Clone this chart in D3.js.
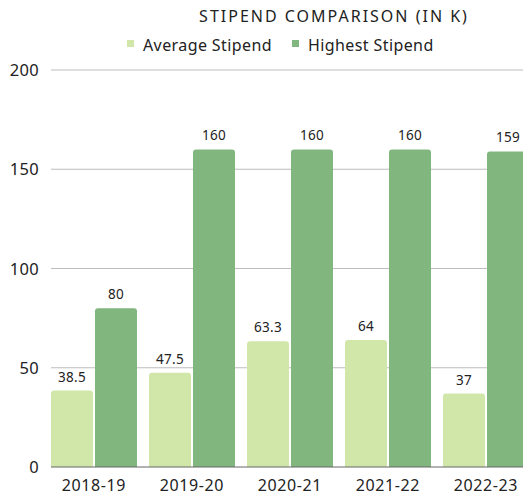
<!DOCTYPE html>
<html>
<head>
<meta charset="utf-8">
<script src="https://cdn.jsdelivr.net/npm/d3@7"></script>
<style>
  body { margin: 0; background: #fff; }
  svg text { font-family: "Noto Sans", "Open Sans", sans-serif; }
</style>
</head>
<body>
<div id="chart"></div>
<script>
// data
var years = ["2018-19", "2019-20", "2020-21", "2021-22", "2022-23"];
var seriesNames = ["Average Stipend", "Highest Stipend"];
var average = [38.5, 47.5, 63.3, 64, 37];
var highest = [80, 160, 160, 160, 159];
var yTicks = [0, 50, 100, 150, 200];

var colors = ["#d0e7a9", "#81b77e"];

var w = 523, h = 498;

var svg = d3.select("#chart").append("svg")
  .attr("width", w).attr("height", h);

var x0 = d3.scaleBand()
  .domain(years)
  .range([51, 529])
  .paddingInner(12 / 98)
  .paddingOuter(0);

var x1 = d3.scaleBand()
  .domain(seriesNames)
  .range([0, x0.bandwidth()])
  .paddingInner(0.045);

var y = d3.scaleLinear().domain([0, 200]).range([467, 70]);

// gridlines
svg.selectAll("line.grid")
  .data(yTicks.slice(1))
  .enter().append("line")
  .attr("class", "grid")
  .attr("x1", 51).attr("x2", w)
  .attr("y1", function(d){ return y(d); })
  .attr("y2", function(d){ return y(d); })
  .attr("stroke", "#bdbdbd").attr("stroke-width", 1.2);

// y tick labels
svg.selectAll("text.ytick")
  .data(yTicks)
  .enter().append("text")
  .attr("class", "ytick")
  .attr("x", 39)
  .attr("y", function(d){ return y(d) + 6; })
  .attr("text-anchor", "end")
  .attr("font-size", "16.5px")
  .attr("letter-spacing", "0.3px")
  .attr("fill", "#222")
  .text(function(d){ return d; });

var rows = years.map(function(yr, i){
  return { year: yr, vals: [average[i], highest[i]] };
});

// rounded-top bar path
function barPath(x, yTop, bw, bh, r) {
  r = Math.min(r, bh);
  return "M" + x + "," + (yTop + bh) +
    "V" + (yTop + r) +
    "Q" + x + "," + yTop + " " + (x + r) + "," + yTop +
    "H" + (x + bw - r) +
    "Q" + (x + bw) + "," + yTop + " " + (x + bw) + "," + (yTop + r) +
    "V" + (yTop + bh) + "Z";
}

var groups = svg.selectAll("g.grp")
  .data(rows)
  .enter().append("g")
  .attr("class", "grp")
  .attr("transform", function(d){ return "translate(" + x0(d.year) + ",0)"; });

groups.selectAll("path")
  .data(function(d){ return d.vals.map(function(v, j){ return { name: seriesNames[j], v: v, j: j }; }); })
  .enter().append("path")
  .attr("d", function(d){
    return barPath(x1(d.name), y(d.v), x1.bandwidth(), y(0) - y(d.v), 3);
  })
  .attr("fill", function(d){ return colors[d.j]; });

groups.selectAll("text.val")
  .data(function(d){ return d.vals.map(function(v, j){ return { name: seriesNames[j], v: v }; }); })
  .enter().append("text")
  .attr("class", "val")
  .attr("x", function(d){ return x1(d.name) + x1.bandwidth() / 2; })
  .attr("y", function(d){ return y(d.v) - 9; })
  .attr("text-anchor", "middle")
  .attr("font-size", "13.5px")
  .attr("letter-spacing", "0.3px")
  .attr("fill", "#222")
  .text(function(d){ return d.v; });

// baseline
svg.append("line")
  .attr("x1", 51).attr("x2", w)
  .attr("y1", y(0)).attr("y2", y(0))
  .attr("stroke", "#666").attr("stroke-width", 1.2);

// x labels
svg.selectAll("text.xtick")
  .data(years)
  .enter().append("text")
  .attr("class", "xtick")
  .attr("x", function(d){ return x0(d) + x0.bandwidth() / 2; })
  .attr("y", 491)
  .attr("text-anchor", "middle")
  .attr("font-size", "16px")
  .attr("letter-spacing", "0.6px")
  .attr("fill", "#222")
  .text(function(d){ return d; });

// title
svg.append("text")
  .attr("x", 334).attr("y", 22)
  .attr("text-anchor", "middle")
  .attr("font-size", "16px")
  .attr("letter-spacing", "2px")
  .attr("fill", "#222")
  .text("STIPEND COMPARISON (IN K)");

// legend
var legX = [127, 292];
var leg = svg.selectAll("g.leg")
  .data(seriesNames)
  .enter().append("g")
  .attr("class", "leg")
  .attr("transform", function(d, i){ return "translate(" + legX[i] + ",40)"; });
leg.append("rect")
  .attr("width", 7).attr("height", 7)
  .attr("fill", function(d, i){ return colors[i]; });
leg.append("text")
  .attr("x", 16).attr("y", 11)
  .attr("font-size", "16px")
  .attr("letter-spacing", "0.4px")
  .attr("fill", "#222")
  .text(function(d){ return d; });
</script>
</body>
</html>
